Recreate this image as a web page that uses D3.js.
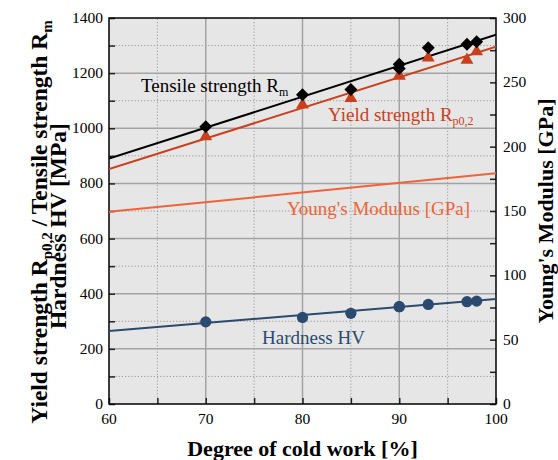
<!DOCTYPE html>
<html>
<head>
<meta charset="utf-8">
<script src="https://cdn.jsdelivr.net/npm/d3@7"></script>
<style>
  body { margin: 0; background: #fff; }
  text { font-family: "Liberation Serif", "Times New Roman", serif; }
</style>
</head>
<body>
<div id="chart"></div>
<script>
// degree of cold work [%] for measured samples
const coldWork = [70, 80, 85, 90, 90, 93, 97, 98];
const tensile = [1006, 1122, 1141, 1232, 1217, 1292, 1305, 1314];
const yieldStr = [970, 1085, 1109, 1190, 1190, 1256, 1248, 1278];
const hardness = [298, 314, 329, 353, 353, 361, 371, 373];

// fitted lines, values at 60 % and 100 %
const fitX = [60, 100];
const tensileFit = [890, 1339];
const yieldFit = [852, 1296];
const youngFit = [149.4, 179.3];   // GPa, right axis
const hardnessFit = [265, 381];

const xTicks = [60, 70, 80, 90, 100];
const yTicks = [0, 200, 400, 600, 800, 1000, 1200, 1400];
const y2Ticks = [0, 50, 100, 150, 200, 250, 300];

const W = 558, H = 460;
const m = {left: 109, right: 62, top: 18, bottom: 56};

const svg = d3.select("#chart").append("svg")
    .attr("width", W)
    .attr("height", H);

const x = d3.scaleLinear().domain([60, 100]).range([m.left, W - m.right]);
const y = d3.scaleLinear().domain([0, 1400]).range([H - m.bottom, m.top]);
const y2 = d3.scaleLinear().domain([0, 300]).range([H - m.bottom, m.top]);

// plot background
svg.append("rect")
    .attr("x", x(60)).attr("y", y(1400))
    .attr("width", x(100) - x(60)).attr("height", y(0) - y(1400))
    .attr("fill", "#e6e6e6");

// minor grid (dotted)
d3.range(65, 100, 10).forEach(v =>
    svg.append("line")
    .attr("x1", x(v)).attr("x2", x(v))
    .attr("y1", y(0)).attr("y2", y(1400))
    .attr("stroke", "#9a9a9a").attr("stroke-width", 1)
    .attr("stroke-dasharray", "1.2,2")
);
d3.range(100, 1400, 200).forEach(v =>
    svg.append("line")
    .attr("x1", x(60)).attr("x2", x(100))
    .attr("y1", y(v)).attr("y2", y(v))
    .attr("stroke", "#9a9a9a").attr("stroke-width", 1)
    .attr("stroke-dasharray", "1.2,2")
);
// major grid
xTicks.slice(1, -1).forEach(v =>
    svg.append("line")
    .attr("x1", x(v)).attr("x2", x(v))
    .attr("y1", y(0)).attr("y2", y(1400))
    .attr("stroke", "#a3a3a3").attr("stroke-width", 1.5)
);
yTicks.slice(1, -1).forEach(v =>
    svg.append("line")
    .attr("x1", x(60)).attr("x2", x(100))
    .attr("y1", y(v)).attr("y2", y(v))
    .attr("stroke", "#a3a3a3").attr("stroke-width", 1.5)
);

// axes with inward ticks
const gx = svg.append("g").attr("transform", `translate(0,${y(0)})`)
    .call(d3.axisBottom(x).tickValues(d3.range(60, 101, 5)).tickSizeInner(-6).tickSizeOuter(0).tickFormat(""));
const gy = svg.append("g").attr("transform", `translate(${x(60)},0)`)
    .call(d3.axisLeft(y).tickValues(d3.range(0, 1401, 100)).tickSizeInner(-6).tickSizeOuter(0).tickFormat(""));
const gy2 = svg.append("g").attr("transform", `translate(${x(100)},0)`)
    .call(d3.axisRight(y2).tickValues(d3.range(0, 301, 25)).tickSizeInner(-6).tickSizeOuter(0).tickFormat(""));
[gx, gy, gy2].forEach(g => {
    g.select(".domain").remove();
    g.selectAll("line").attr("stroke", "#222").attr("stroke-width", 1.5);
});

// frame
svg.append("rect")
    .attr("x", x(60)).attr("y", y(1400))
    .attr("width", x(100) - x(60)).attr("height", y(0) - y(1400))
    .attr("fill", "none").attr("stroke", "#000").attr("stroke-width", 1.5);

// tick labels
xTicks.forEach(v =>
    svg.append("text")
    .attr("x", x(v)).attr("y", y(0) + 20)
    .attr("text-anchor", "middle").attr("font-size", 15.5)
    .text(v)
);
yTicks.forEach(v =>
    svg.append("text")
    .attr("x", x(60) - 6).attr("y", y(v) + 5)
    .attr("text-anchor", "end").attr("font-size", 15.5)
    .text(v)
);
y2Ticks.forEach(v =>
    svg.append("text")
    .attr("x", x(100) + 7).attr("y", y2(v) + 5)
    .attr("font-size", 15.5)
    .text(v)
);

// fit lines
const fitLine = (vals, sc) => d3.line().x((d, i) => x(fitX[i])).y(d => sc(d))(vals);
const series = [
    {fit: tensileFit, sc: y, color: "#000"},
    {fit: yieldFit, sc: y, color: "#c8401c"},
    {fit: youngFit, sc: y2, color: "#ef6336"},
    {fit: hardnessFit, sc: y, color: "#2b4a6f"}
];
svg.append("clipPath").attr("id", "plotclip")
    .append("rect")
    .attr("x", x(60)).attr("y", y(1400))
    .attr("width", x(100) - x(60)).attr("height", y(0) - y(1400));
const plot = svg.append("g").attr("clip-path", "url(#plotclip)");
series.forEach(s =>
    plot.append("path")
    .attr("d", fitLine(s.fit, s.sc))
    .attr("fill", "none").attr("stroke", s.color).attr("stroke-width", 2)
);

// markers
plot.selectAll(".tri").data(coldWork).enter().append("path")
    .attr("transform", (d, i) => `translate(${x(d)},${y(yieldStr[i])})`)
    .attr("d", d3.symbol(d3.symbolTriangle, 72))
    .attr("fill", "#c8401c");
plot.selectAll(".dia").data(coldWork).enter().append("path")
    .attr("transform", (d, i) => `translate(${x(d)},${y(tensile[i])}) rotate(45)`)
    .attr("d", d3.symbol(d3.symbolSquare, 84))
    .attr("fill", "#000");
plot.selectAll(".dot").data(coldWork).enter().append("circle")
    .attr("cx", d => x(d))
    .attr("cy", (d, i) => y(hardness[i]))
    .attr("r", 5.6)
    .attr("fill", "#2b4a6f");

// series labels
function subLabel(tx, ty, main, sub, color) {
    const t = svg.append("text")
        .attr("x", tx).attr("y", ty)
        .attr("font-size", 19).attr("fill", color);
    t.append("tspan").text(main);
    if (sub) t.append("tspan").attr("dy", 4).attr("font-size", 12).text(sub);
}
subLabel(141, 92, "Tensile strength R", "m", "#000");
subLabel(328, 121, "Yield strength R", "p0,2", "#c8401c");
subLabel(287, 215, "Young's Modulus [GPa]", null, "#ef6336");
subLabel(262, 344, "Hardness HV", null, "#2b4a6f");

// axis titles
svg.append("text")
    .attr("x", (x(60) + x(100)) / 2).attr("y", 456)
    .attr("text-anchor", "middle")
    .attr("font-size", 22).attr("font-weight", "bold")
    .text("Degree of cold work [%]");

const yl = svg.append("text")
    .attr("transform", "translate(47,222) rotate(-90)")
    .attr("text-anchor", "middle")
    .attr("font-size", 23.5).attr("font-weight", "bold");
yl.append("tspan").text("Yield strength R");
yl.append("tspan").attr("dy", 5).attr("font-size", 15).text("p0,2");
yl.append("tspan").attr("dy", -5).text(" / Tensile strength R");
yl.append("tspan").attr("dy", 5).attr("font-size", 15).text("m");

svg.append("text")
    .attr("transform", "translate(66,226) rotate(-90)")
    .attr("text-anchor", "middle")
    .attr("font-size", 23.5).attr("font-weight", "bold")
    .text("Hardness HV [MPa]");

svg.append("text")
    .attr("transform", "translate(553,211) rotate(-90)")
    .attr("text-anchor", "middle")
    .attr("font-size", 22).attr("font-weight", "bold")
    .text("Young's Modulus [GPa]");
</script>
</body>
</html>
